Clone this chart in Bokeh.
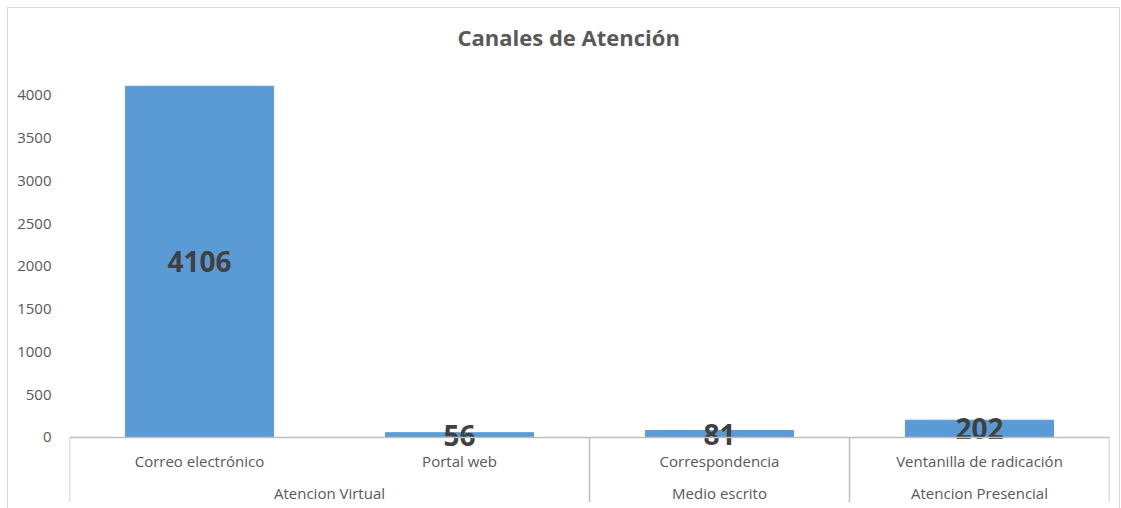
from bokeh.plotting import figure
from bokeh.models import Range1d, FixedTicker, Span, ColumnDataSource, Title
from bokeh.core.properties import value
from bokeh.embed import file_html
from bokeh.resources import INLINE
import numpy as np

# ---- data ----
categories = ["Correo electrónico", "Portal web", "Correspondencia", "Ventanilla de radicación"]
groups = ["Atencion Virtual", "Atencion Virtual", "Medio escrito", "Atencion Presencial"]
values = [4106, 56, 81, 202]
y_ticks = [0, 500, 1000, 1500, 2000, 2500, 3000, 3500, 4000]
title_text = "Canales de Atención"

FONT = "Open Sans"
BAR = "#5B9BD5"
GRID = "#bfbfbf"
TXT = "#595959"

n = len(categories)
xc = np.arange(n) + 0.5

Y_BOTTOM = -760
Y_TOP = 4500

p = figure(width=1111, height=500, output_backend="svg", toolbar_location=None,
           x_range=Range1d(0, n), y_range=Range1d(Y_BOTTOM, Y_TOP),
           min_border_left=61, min_border_right=10, min_border_top=44, min_border_bottom=6,
           x_axis_location=None)
p.frame_width = 1040
p.frame_height = 450
p.styles = {"border": "1px solid #d9d9d9", "margin-left": "7px", "margin-top": "7px"}
p.outline_line_color = None
p.xgrid.visible = False
p.ygrid.visible = False

p.title = Title(text=title_text, text_font=FONT, text_font_size="22px",
                text_font_style="bold", text_color=TXT, align="left", offset=388, standoff=1)

ax = p.yaxis[0]
ax.ticker = FixedTicker(ticks=y_ticks)
ax.axis_line_color = None
ax.major_tick_line_color = None
ax.minor_tick_line_color = None
ax.major_label_text_font = FONT
ax.major_label_text_font_size = "15px"
ax.major_label_text_color = TXT
ax.major_label_standoff = 12

src = ColumnDataSource(dict(x=xc, top=values, cat=categories,
                            lab=[str(v) for v in values],
                            mid=[v / 2 for v in values]))

p.vbar(x="x", top="top", bottom=0, width=0.57, source=src,
       fill_color=BAR, line_color=BAR)

# baseline
p.add_layout(Span(location=0, dimension="width", line_color=GRID, line_width=1.5))

# category separators: edges and group boundaries
bounds = [0]
for i in range(1, n):
    if groups[i] != groups[i - 1]:
        bounds.append(i)
bounds.append(n)
p.segment(x0=bounds, y0=[0] * len(bounds), x1=bounds, y1=[Y_BOTTOM] * len(bounds),
          line_color=GRID, line_width=1.5)

# category labels
p.text(x="x", y=-270, text="cat", source=src, text_font=value(FONT),
       text_font_size="15px", text_color=TXT, text_align="center", text_baseline="middle")

# group labels
gnames, gcent = [], []
for a, b in zip(bounds[:-1], bounds[1:]):
    gnames.append(groups[a])
    gcent.append((a + b) / 2)
p.text(x=gcent, y=[-645] * len(gcent), text=gnames, text_font=value(FONT),
       text_font_size="15px", text_color=TXT, text_align="center", text_baseline="middle")

# data labels
p.text(x="x", y="mid", text="lab", source=src, text_font=value(FONT),
       text_font_size="28px", text_font_style="bold", text_color="#404040",
       text_align="center", text_baseline="middle")

open("out.html", "w").write(file_html(p, INLINE))
